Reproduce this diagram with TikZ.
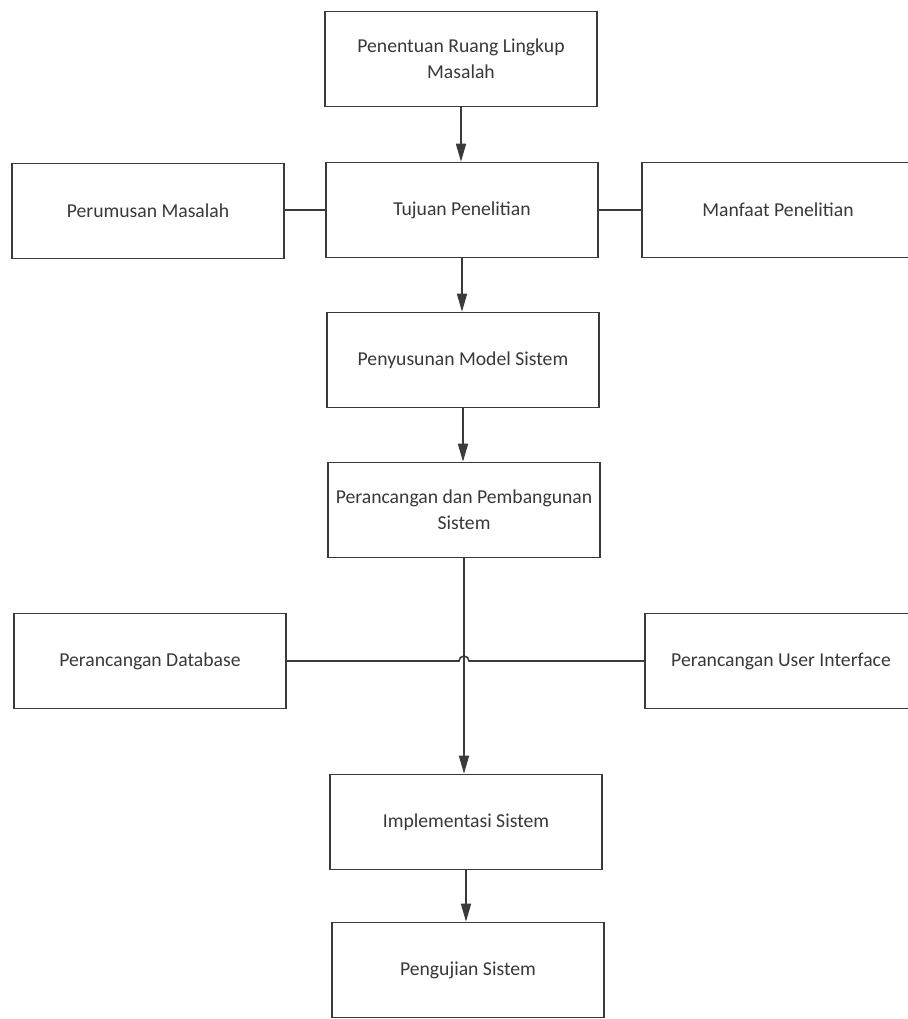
\documentclass[tikz,border=0pt]{standalone}
\usepackage{fontspec}
\setmainfont{Carlito}
\usetikzlibrary{arrows.meta}
\definecolor{garis}{HTML}{3A3A3A}
\definecolor{teks}{HTML}{383838}

\begin{document}
\begin{tikzpicture}[x=0.02cm, y=-0.02cm,
    kotak/.style={draw=garis, line width=0.9pt, minimum width=5.44cm, minimum height=1.9cm,
      align=center, text=teks, font=\fontsize{11.2}{15}\selectfont},
    panah/.style={draw=garis, line width=0.9pt, -{Triangle[length=0.36cm, width=0.2cm]}},
    hubung/.style={draw=garis, line width=0.9pt}]
    \useasboundingbox (0,0) rectangle (908,1019);
    \clip (0,0) rectangle (908,1019);
    % alur utama
    \node[kotak] (ruang) at (461,59) {Penentuan Ruang Lingkup\\Masalah};
    \node[kotak] (tujuan) at (462,210) {Tujuan Penelitian};
    \node[kotak] (model) at (463,360) {Penyusunan Model Sistem};
    \node[kotak] (bangun) at (464,510) {Perancangan dan Pembangunan\\Sistem};
    \node[kotak] (implementasi) at (466,822) {Implementasi Sistem};
    \node[kotak] (uji) at (468,970) {Pengujian Sistem};
    % kotak samping
    \node[kotak] (rumusan) at (148,211) {Perumusan Masalah};
    \node[kotak] (manfaat) at (778,210) {Manfaat Penelitian};
    \node[kotak] (database) at (150,661) {Perancangan Database};
    \node[kotak] (ui) at (781,661) {Perancangan User Interface};
    \coordinate (lintas) at (bangun.south |- ui.west);
    % panah
    \draw[panah] (ruang.south) -- (ruang.south |- tujuan.north);
    \draw[panah] (tujuan.south) -- (tujuan.south |- model.north);
    \draw[panah] (model.south) -- (model.south |- bangun.north);
    \draw[panah] (bangun.south) -- (bangun.south |- implementasi.north);
    \draw[panah] (implementasi.south) -- (implementasi.south |- uji.north);
    % garis samping
    \draw[hubung] (rumusan.east |- tujuan.west) -- (tujuan.west);
    \draw[hubung] (tujuan.east) -- (manfaat.west);
    \draw[hubung] (database.east) -- ([xshift=-0.1cm]lintas)
        arc[start angle=180, end angle=0, radius=0.1cm] -- (ui.west);
\end{tikzpicture}
\end{document}
